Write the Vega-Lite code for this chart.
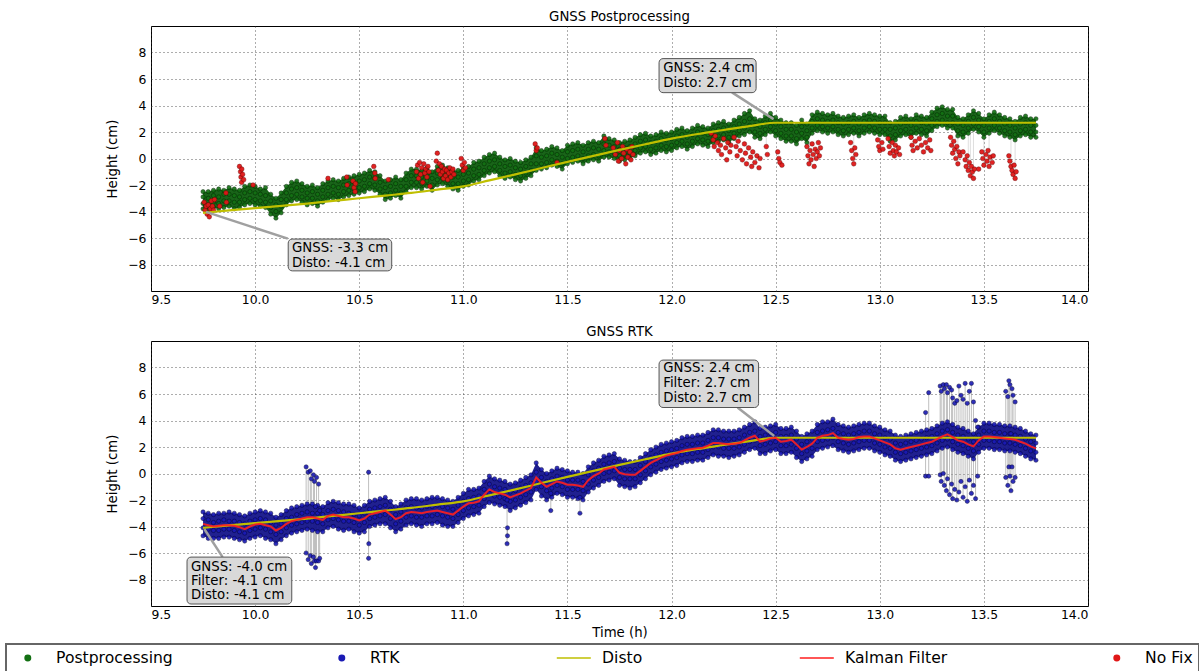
{
"$schema": "https://vega.github.io/schema/vega-lite/v6.json",
"padding": {"left": 5, "top": 9, "right": 0, "bottom": 0},
"spacing": 18,
"datasets": {
"pp": [
{"t":9.75,"h2":-2.5,"b":-2.9,"c":-3.4,"h":-3.8},{"t":9.775,"h2":-2.5,"b":-3.0,"c":-3.5,"h":-3.9},{"t":9.8,"h2":-2.4,"b":-2.8,"c":-3.3,"h":-3.7},{"t":9.825,"h2":-2.3,"b":-2.9,"c":-3.4,"h":-3.8},{"t":9.85,"h2":-2.4,"b":-2.7,"c":-3.2,"h":-3.7},{"t":9.875,"h2":-2.2,"b":-2.7,"c":-3.2,"h":-3.6},{"t":9.9,"h2":-2.3,"b":-2.8,"c":-3.3,"h":-3.8},{"t":9.925,"h2":-2.4,"b":-2.9,"c":-3.3,"h":-3.7},{"t":9.95,"h2":-2.1,"b":-2.6,"c":-3.1,"h":-3.5},{"t":9.975,"h2":-2.0,"b":-2.5,"c":-3.0,"h":-3.4},
{"t":10.0,"h2":-2.1,"b":-2.6,"c":-3.1,"h":-3.5},{"t":10.025,"h2":-2.3,"b":-2.7,"c":-3.2,"h":-3.6},{"t":10.05,"h2":-2.2,"b":-2.8,"c":-3.3,"h":-3.7},{"t":10.075,"h2":-2.7,"b":-3.2,"c":-3.7,"h":-4.2},{"t":10.1,"h2":-3.0,"b":-3.5,"c":-4.0,"h":-4.5},{"t":10.125,"h2":-2.6,"b":-3.1,"c":-3.6,"h":-4.1},{"t":10.15,"h2":-2.1,"b":-2.6,"c":-3.1,"h":-3.5},{"t":10.175,"h2":-1.8,"b":-2.3,"c":-2.8,"h":-3.2},{"t":10.2,"h2":-1.7,"b":-2.2,"c":-2.7,"h":-3.1},{"t":10.225,"h2":-1.9,"b":-2.4,"c":-2.9,"h":-3.3},
{"t":10.25,"h2":-2.1,"b":-2.6,"c":-3.0,"h":-3.5},{"t":10.275,"h2":-2.0,"b":-2.5,"c":-3.0,"h":-3.4},{"t":10.3,"h2":-2.2,"b":-2.7,"c":-3.2,"h":-3.6},{"t":10.325,"h2":-1.9,"b":-2.4,"c":-2.9,"h":-3.3},{"t":10.35,"h2":-1.7,"b":-2.2,"c":-2.7,"h":-3.1},{"t":10.375,"h2":-1.6,"b":-2.1,"c":-2.6,"h":-3.0},{"t":10.4,"h2":-1.7,"b":-2.2,"c":-2.7,"h":-3.1},{"t":10.425,"h2":-1.5,"b":-2.0,"c":-2.5,"h":-2.9},{"t":10.45,"h2":-1.4,"b":-1.9,"c":-2.4,"h":-2.8},{"t":10.475,"h2":-1.3,"b":-1.8,"c":-2.3,"h":-2.7},
{"t":10.5,"h2":-1.2,"b":-1.7,"c":-2.2,"h":-2.6},{"t":10.525,"h2":-1.1,"b":-1.6,"c":-2.1,"h":-2.5},{"t":10.55,"h2":-0.9,"b":-1.4,"c":-1.9,"h":-2.3},{"t":10.575,"h2":-1.0,"b":-1.5,"c":-2.0,"h":-2.4},{"t":10.6,"h2":-1.3,"b":-1.8,"c":-2.3,"h":-2.7},{"t":10.625,"h2":-1.7,"b":-2.2,"c":-2.7,"h":-3.1},{"t":10.65,"h2":-1.6,"b":-2.1,"c":-2.6,"h":-3.0},{"t":10.675,"h2":-1.4,"b":-1.9,"c":-2.4,"h":-2.8},{"t":10.7,"h2":-1.6,"b":-2.1,"c":-2.6,"h":-3.0},{"t":10.725,"h2":-1.1,"b":-1.6,"c":-2.1,"h":-2.5},
{"t":10.75,"h2":-0.8,"b":-1.3,"c":-1.8,"h":-2.2},{"t":10.775,"h2":-0.8,"b":-1.3,"c":-1.8,"h":-2.2},{"t":10.8,"h2":-0.9,"b":-1.4,"c":-1.9,"h":-2.3},{"t":10.825,"h2":-0.7,"b":-1.2,"c":-1.7,"h":-2.1},{"t":10.85,"h2":-1.0,"b":-1.5,"c":-2.0,"h":-2.4},{"t":10.875,"h2":-0.6,"b":-1.1,"c":-1.6,"h":-2.0},{"t":10.9,"h2":-0.5,"b":-1.0,"c":-1.5,"h":-1.9},{"t":10.925,"h2":-0.7,"b":-1.2,"c":-1.7,"h":-2.1},{"t":10.95,"h2":-0.9,"b":-1.4,"c":-1.9,"h":-2.3},{"t":10.975,"h2":-0.9,"b":-1.4,"c":-1.9,"h":-2.4},
{"t":11.0,"h2":-0.7,"b":-1.2,"c":-1.7,"h":-2.1},{"t":11.025,"h2":-0.6,"b":-1.1,"c":-1.6,"h":-2.0},{"t":11.05,"h2":-0.3,"b":-0.8,"c":-1.3,"h":-1.7},{"t":11.075,"h2":-0.2,"b":-0.7,"c":-1.2,"h":-1.6},{"t":11.1,"h2":0.1,"b":-0.4,"c":-0.9,"h":-1.3},{"t":11.125,"h2":0.3,"b":-0.2,"c":-0.7,"h":-1.1},{"t":11.15,"h2":0.4,"b":-0.1,"c":-0.6,"h":-1.0},{"t":11.175,"h2":0.1,"b":-0.4,"c":-0.9,"h":-1.3},{"t":11.2,"h2":-0.1,"b":-0.6,"c":-1.1,"h":-1.5},{"t":11.225,"h2":0.0,"b":-0.5,"c":-1.0,"h":-1.4},
{"t":11.25,"h2":-0.2,"b":-0.7,"c":-1.2,"h":-1.6},{"t":11.275,"h2":-0.3,"b":-0.8,"c":-1.3,"h":-1.7},{"t":11.3,"h2":-0.1,"b":-0.6,"c":-1.1,"h":-1.5},{"t":11.325,"h2":0.1,"b":-0.4,"c":-0.9,"h":-1.3},{"t":11.35,"h2":0.8,"b":0.2,"c":-0.4,"h":-0.9},{"t":11.375,"h2":0.6,"b":0.1,"c":-0.4,"h":-0.8},{"t":11.4,"h2":0.7,"b":0.2,"c":-0.3,"h":-0.7},{"t":11.425,"h2":0.9,"b":0.4,"c":-0.1,"h":-0.5},{"t":11.45,"h2":0.8,"b":0.3,"c":-0.2,"h":-0.6},{"t":11.475,"h2":0.6,"b":0.1,"c":-0.4,"h":-0.8},
{"t":11.5,"h2":1.0,"b":0.5,"c":0.0,"h":-0.4},{"t":11.525,"h2":1.1,"b":0.6,"c":0.1,"h":-0.3},{"t":11.55,"h2":1.2,"b":0.7,"c":0.2,"h":-0.2},{"t":11.575,"h2":1.0,"b":0.5,"c":0.0,"h":-0.4},{"t":11.6,"h2":1.2,"b":0.7,"c":0.2,"h":-0.2},{"t":11.625,"h2":1.3,"b":0.8,"c":0.3,"h":-0.1},{"t":11.65,"h2":1.2,"b":0.7,"c":0.2,"h":-0.2},{"t":11.675,"h2":1.7,"b":1.1,"c":0.6,"h":0.1},{"t":11.7,"h2":1.5,"b":1.0,"c":0.5,"h":0.1},{"t":11.725,"h2":1.4,"b":0.9,"c":0.4,"h":0.0},
{"t":11.75,"h2":1.2,"b":0.7,"c":0.2,"h":-0.2},{"t":11.775,"h2":1.3,"b":0.8,"c":0.3,"h":-0.1},{"t":11.8,"h2":1.4,"b":0.9,"c":0.4,"h":0.0},{"t":11.825,"h2":1.6,"b":1.1,"c":0.6,"h":0.2},{"t":11.85,"h2":1.8,"b":1.3,"c":0.8,"h":0.4},{"t":11.875,"h2":1.9,"b":1.4,"c":0.9,"h":0.5},{"t":11.9,"h2":1.7,"b":1.2,"c":0.7,"h":0.3},{"t":11.925,"h2":1.8,"b":1.3,"c":0.8,"h":0.4},{"t":11.95,"h2":2.0,"b":1.5,"c":1.0,"h":0.6},{"t":11.975,"h2":1.9,"b":1.4,"c":0.9,"h":0.5},
{"t":12.0,"h2":2.0,"b":1.5,"c":1.0,"h":0.6},{"t":12.025,"h2":2.2,"b":1.7,"c":1.2,"h":0.8},{"t":12.05,"h2":2.3,"b":1.8,"c":1.3,"h":0.9},{"t":12.075,"h2":2.1,"b":1.6,"c":1.1,"h":0.7},{"t":12.1,"h2":2.3,"b":1.8,"c":1.3,"h":0.9},{"t":12.125,"h2":2.5,"b":2.0,"c":1.5,"h":1.1},{"t":12.15,"h2":2.4,"b":1.9,"c":1.4,"h":1.0},{"t":12.175,"h2":2.3,"b":1.8,"c":1.3,"h":0.9},{"t":12.2,"h2":2.6,"b":2.1,"c":1.6,"h":1.2},{"t":12.225,"h2":2.7,"b":2.2,"c":1.7,"h":1.3},
{"t":12.25,"h2":2.8,"b":2.3,"c":1.8,"h":1.4},{"t":12.275,"h2":2.6,"b":2.1,"c":1.6,"h":1.2},{"t":12.3,"h2":2.9,"b":2.4,"c":1.9,"h":1.5},{"t":12.325,"h2":3.1,"b":2.6,"c":2.1,"h":1.7},{"t":12.35,"h2":3.4,"b":2.8,"c":2.3,"h":1.8},{"t":12.375,"h2":3.6,"b":3.0,"c":2.5,"h":2.0},{"t":12.4,"h2":3.0,"b":2.5,"c":2.0,"h":1.6},{"t":12.425,"h2":2.9,"b":2.4,"c":1.9,"h":1.5},{"t":12.45,"h2":3.2,"b":2.7,"c":2.2,"h":1.8},{"t":12.475,"h2":3.4,"b":2.9,"c":2.4,"h":2.0},
{"t":12.5,"h2":3.1,"b":2.6,"c":2.1,"h":1.7},{"t":12.525,"h2":2.9,"b":2.4,"c":1.9,"h":1.5},{"t":12.55,"h2":2.7,"b":2.2,"c":1.7,"h":1.3},{"t":12.575,"h2":2.7,"b":2.2,"c":1.7,"h":1.3},{"t":12.6,"h2":2.5,"b":2.0,"c":1.5,"h":1.1},{"t":12.625,"h2":2.9,"b":2.4,"c":1.9,"h":1.5},{"t":12.65,"h2":2.6,"b":2.1,"c":1.6,"h":1.2},{"t":12.675,"h2":3.3,"b":2.8,"c":2.3,"h":1.9},{"t":12.7,"h2":3.5,"b":3.0,"c":2.5,"h":2.1},{"t":12.725,"h2":3.4,"b":2.9,"c":2.4,"h":2.0},
{"t":12.75,"h2":3.3,"b":2.8,"c":2.3,"h":1.9},{"t":12.775,"h2":3.4,"b":2.9,"c":2.4,"h":2.0},{"t":12.8,"h2":3.2,"b":2.7,"c":2.2,"h":1.8},{"t":12.825,"h2":3.1,"b":2.6,"c":2.1,"h":1.7},{"t":12.85,"h2":3.2,"b":2.7,"c":2.2,"h":1.8},{"t":12.875,"h2":3.3,"b":2.8,"c":2.3,"h":1.9},{"t":12.9,"h2":3.1,"b":2.6,"c":2.1,"h":1.7},{"t":12.925,"h2":3.3,"b":2.8,"c":2.3,"h":1.9},{"t":12.95,"h2":3.4,"b":2.9,"c":2.4,"h":2.0},{"t":12.975,"h2":3.3,"b":2.8,"c":2.3,"h":1.9},
{"t":13.0,"h2":3.2,"b":2.7,"c":2.2,"h":1.8},{"t":13.025,"h2":3.2,"b":2.7,"c":2.2,"h":1.8},{"t":13.05,"h2":2.7,"b":2.2,"c":1.7,"h":1.3},{"t":13.075,"h2":2.8,"b":2.3,"c":1.8,"h":1.4},{"t":13.1,"h2":3.1,"b":2.6,"c":2.1,"h":1.7},{"t":13.125,"h2":3.2,"b":2.7,"c":2.2,"h":1.8},{"t":13.15,"h2":3.0,"b":2.5,"c":2.0,"h":1.6},{"t":13.175,"h2":3.3,"b":2.8,"c":2.3,"h":1.9},{"t":13.2,"h2":3.2,"b":2.7,"c":2.2,"h":1.8},{"t":13.225,"h2":3.1,"b":2.6,"c":2.1,"h":1.7},
{"t":13.25,"h2":3.5,"b":3.0,"c":2.5,"h":2.1},{"t":13.275,"h2":3.8,"b":3.3,"c":2.8,"h":2.4},{"t":13.3,"h2":3.9,"b":3.4,"c":2.9,"h":2.5},{"t":13.325,"h2":3.7,"b":3.2,"c":2.7,"h":2.3},{"t":13.35,"h2":3.7,"b":3.2,"c":2.7,"h":2.3},{"t":13.375,"h2":3.1,"b":2.6,"c":2.1,"h":1.7},{"t":13.4,"h2":3.0,"b":2.5,"c":2.0,"h":1.6},{"t":13.425,"h2":3.3,"b":2.8,"c":2.3,"h":1.9},{"t":13.45,"h2":3.6,"b":3.1,"c":2.6,"h":2.2},{"t":13.475,"h2":3.4,"b":2.9,"c":2.4,"h":2.0},
{"t":13.5,"h2":3.0,"b":2.5,"c":2.0,"h":1.6},{"t":13.525,"h2":3.3,"b":2.8,"c":2.3,"h":1.9},{"t":13.55,"h2":3.5,"b":3.0,"c":2.5,"h":2.1},{"t":13.575,"h2":3.3,"b":2.8,"c":2.3,"h":1.9},{"t":13.6,"h2":3.1,"b":2.6,"c":2.1,"h":1.7},{"t":13.625,"h2":3.0,"b":2.5,"c":2.0,"h":1.6},{"t":13.65,"h2":2.8,"b":2.3,"c":1.8,"h":1.4},{"t":13.675,"h2":3.1,"b":2.6,"c":2.1,"h":1.7},{"t":13.7,"h2":3.2,"b":2.7,"c":2.2,"h":1.8},{"t":13.725,"h2":3.0,"b":2.5,"c":2.0,"h":1.6},{"t":13.75,"h2":3.0,"b":2.5,"c":2.0,"h":1.6}
],
"nf": [
{"t":9.755,"h":-3.3},{"t":9.76,"h":-3.9},{"t":9.765,"h":-3.6},{"t":9.77,"h":-4.2},{"t":9.775,"h":-3.5},{"t":9.78,"h":-4.4},{"t":9.785,"h":-3.8},{"t":9.79,"h":-3.2},{"t":9.795,"h":-3.6},{"t":9.8,"h":-3.9},{"t":9.805,"h":-3.1},{"t":9.83,"h":-3.6},{"t":9.86,"h":-2.6},{"t":9.862,"h":-3.3},
{"t":9.925,"h":-0.6},{"t":9.93,"h":-1.0},{"t":9.932,"h":-1.4},{"t":9.935,"h":-1.8},{"t":9.94,"h":-1.2},{"t":9.936,"h":-0.8},{"t":9.945,"h":-1.6},{"t":9.99,"h":-2.0},
{"t":10.35,"h":-1.5},{"t":10.44,"h":-1.4},{"t":10.442,"h":-2.0},{"t":10.47,"h":-1.7},{"t":10.475,"h":-2.2},{"t":10.48,"h":-2.5},{"t":10.482,"h":-1.9},{"t":10.57,"h":-0.6},{"t":10.575,"h":-1.1},{"t":10.577,"h":-1.5},{"t":10.64,"h":-1.6},
{"t":10.775,"h":-1.0},{"t":10.78,"h":-0.5},{"t":10.785,"h":-1.5},{"t":10.79,"h":-0.3},{"t":10.795,"h":-1.2},{"t":10.8,"h":-0.7},{"t":10.805,"h":-1.8},{"t":10.81,"h":-0.4},{"t":10.815,"h":-1.1},{"t":10.82,"h":-0.8},{"t":10.825,"h":-1.4},{"t":10.83,"h":-0.6},{"t":10.835,"h":-1.0},{"t":10.84,"h":-2.1},
{"t":10.87,"h":-0.2},{"t":10.875,"h":0.4},{"t":10.88,"h":-0.9},{"t":10.885,"h":-0.4},{"t":10.89,"h":-1.2},{"t":10.895,"h":-0.6},{"t":10.9,"h":-1.0},{"t":10.905,"h":-1.5},{"t":10.91,"h":-0.8},{"t":10.915,"h":-1.3},{"t":10.92,"h":-0.9},{"t":10.925,"h":-1.6},{"t":10.93,"h":-1.1},{"t":10.935,"h":-0.7},{"t":10.94,"h":-1.4},{"t":10.945,"h":-1.0},{"t":10.95,"h":-0.8},{"t":10.955,"h":-1.2},
{"t":10.99,"h":0.0},{"t":10.995,"h":-0.5},{"t":11.0,"h":-0.9},{"t":11.005,"h":-0.3},{"t":11.01,"h":-0.7},
{"t":11.345,"h":1.1},{"t":11.35,"h":0.6},{"t":11.355,"h":0.8},{"t":11.45,"h":-0.3},{"t":11.68,"h":1.5},{"t":11.685,"h":1.0},
{"t":11.72,"h":0.8},{"t":11.73,"h":0.3},{"t":11.74,"h":1.2},{"t":11.745,"h":-0.2},{"t":11.75,"h":0.6},{"t":11.76,"h":0.0},{"t":11.765,"h":0.9},{"t":11.77,"h":0.4},{"t":11.78,"h":-0.4},{"t":11.785,"h":0.7},{"t":11.79,"h":0.1},{"t":11.8,"h":0.5},{"t":11.805,"h":-0.1},{"t":11.81,"h":0.9},{"t":11.815,"h":0.3},
{"t":12.19,"h":1.9},{"t":12.2,"h":1.4},{"t":12.205,"h":0.9},{"t":12.21,"h":1.7},{"t":12.22,"h":1.2},{"t":12.225,"h":0.6},{"t":12.235,"h":1.0},{"t":12.24,"h":0.3},{"t":12.25,"h":1.5},{"t":12.26,"h":0.8},{"t":12.265,"h":-0.1},{"t":12.27,"h":1.2},{"t":12.28,"h":0.5},{"t":12.285,"h":1.0},
{"t":12.3,"h":1.6},{"t":12.31,"h":0.9},{"t":12.315,"h":0.2},{"t":12.32,"h":1.3},{"t":12.33,"h":0.6},{"t":12.34,"h":-0.1},{"t":12.35,"h":1.1},{"t":12.355,"h":0.4},{"t":12.36,"h":-0.4},{"t":12.37,"h":0.8},{"t":12.38,"h":0.1},{"t":12.385,"h":-0.6},{"t":12.39,"h":0.5},{"t":12.4,"h":-0.3},{"t":12.41,"h":0.2},{"t":12.42,"h":-0.7},{"t":12.425,"h":0.0},
{"t":12.455,"h":0.9},{"t":12.46,"h":0.3},{"t":12.51,"h":0.5},{"t":12.515,"h":0.0},{"t":12.52,"h":-0.3},{"t":12.53,"h":-0.5},
{"t":12.65,"h":0.9},{"t":12.655,"h":0.2},{"t":12.66,"h":-0.4},{"t":12.665,"h":0.6},{"t":12.67,"h":-0.1},{"t":12.675,"h":1.1},{"t":12.68,"h":0.3},{"t":12.685,"h":-0.6},{"t":12.69,"h":0.7},{"t":12.695,"h":0.0},{"t":12.7,"h":0.5},{"t":12.705,"h":1.2},{"t":12.71,"h":0.2},{"t":12.715,"h":0.8},
{"t":12.86,"h":1.2},{"t":12.865,"h":0.6},{"t":12.87,"h":0.0},{"t":12.875,"h":-0.4},{"t":12.88,"h":0.8},{"t":12.885,"h":0.3},
{"t":12.99,"h":1.4},{"t":12.995,"h":0.9},{"t":13.0,"h":0.6},{"t":13.01,"h":1.2},{"t":13.015,"h":0.7},
{"t":13.04,"h":1.5},{"t":13.045,"h":0.9},{"t":13.05,"h":0.4},{"t":13.06,"h":1.2},{"t":13.065,"h":0.6},{"t":13.07,"h":0.2},{"t":13.075,"h":1.0},{"t":13.08,"h":0.5},{"t":13.09,"h":0.8},{"t":13.095,"h":0.3},
{"t":13.15,"h":1.6},{"t":13.155,"h":1.0},{"t":13.16,"h":0.6},{"t":13.17,"h":1.3},{"t":13.18,"h":0.8},{"t":13.19,"h":1.5},{"t":13.2,"h":1.0},{"t":13.21,"h":0.5},{"t":13.22,"h":1.2},{"t":13.23,"h":0.8},{"t":13.24,"h":1.4},{"t":13.245,"h":0.6},
{"t":13.34,"h":1.6},{"t":13.345,"h":1.0},{"t":13.35,"h":0.4},{"t":13.355,"h":1.3},{"t":13.36,"h":0.7},{"t":13.365,"h":0.0},{"t":13.37,"h":0.9},{"t":13.375,"h":-0.4},{"t":13.38,"h":0.5},{"t":13.385,"h":0.2},
{"t":13.4,"h":0.5},{"t":13.41,"h":-0.1},{"t":13.415,"h":-0.6},{"t":13.42,"h":0.2},{"t":13.425,"h":-0.9},{"t":13.43,"h":-0.3},{"t":13.435,"h":-1.3},{"t":13.44,"h":-0.6},{"t":13.445,"h":-1.0},{"t":13.45,"h":-1.5},{"t":13.455,"h":-0.8},{"t":13.475,"h":-0.8},
{"t":13.49,"h":0.5},{"t":13.495,"h":0.0},{"t":13.5,"h":-0.5},{"t":13.51,"h":0.3},{"t":13.515,"h":-0.2},{"t":13.52,"h":0.6},{"t":13.525,"h":-0.6},{"t":13.53,"h":0.1},{"t":13.54,"h":-0.3},{"t":13.545,"h":0.2},
{"t":13.62,"h":0.2},{"t":13.625,"h":-0.2},{"t":13.63,"h":-0.6},{"t":13.635,"h":-0.9},{"t":13.64,"h":-1.2},{"t":13.645,"h":-0.5},{"t":13.65,"h":-1.5},{"t":13.655,"h":-1.0}
],
"nfl": [
{"t":9.932,"h":-2.9,"h2":-0.6},{"t":9.938,"h":-2.8,"h2":-1.0},{"t":12.455,"h":0.9,"h2":2.4},{"t":12.66,"h":-0.4,"h2":1.9},{"t":12.875,"h":-0.4,"h2":2.5},{"t":13.365,"h":0.0,"h2":2.6},{"t":13.375,"h":-0.4,"h2":2.5},{"t":13.425,"h":-0.9,"h2":2.6},{"t":13.435,"h":-1.3,"h2":2.8},{"t":13.45,"h":-1.5,"h2":2.9},{"t":13.5,"h":-0.5,"h2":2.3},{"t":13.525,"h":-0.6,"h2":2.5},{"t":13.63,"h":-0.6,"h2":2.2},{"t":13.65,"h":-1.5,"h2":2.1}
],
"rtk": [
{"t":9.75,"h2":-2.9,"b":-3.4,"c":-4.1,"h":-4.7,"k":-3.8},{"t":9.775,"h2":-3.0,"b":-3.5,"c":-4.2,"h":-4.9,"k":-3.9},{"t":9.8,"h2":-3.1,"b":-3.7,"c":-4.3,"h":-4.9,"k":-4.0},{"t":9.825,"h2":-3.0,"b":-3.6,"c":-4.3,"h":-4.9,"k":-3.95},{"t":9.85,"h2":-3.0,"b":-3.5,"c":-4.2,"h":-4.8,"k":-3.9},{"t":9.875,"h2":-2.9,"b":-3.6,"c":-4.2,"h":-4.8,"k":-3.9},{"t":9.9,"h2":-3.0,"b":-3.6,"c":-4.3,"h":-4.9,"k":-3.95},{"t":9.925,"h2":-3.1,"b":-3.7,"c":-4.4,"h":-5.0,"k":-4.05},{"t":9.95,"h2":-3.2,"b":-3.8,"c":-4.5,"h":-5.1,"k":-4.2},{"t":9.975,"h2":-3.0,"b":-3.6,"c":-4.3,"h":-4.9,"k":-4.0},
{"t":10.0,"h2":-2.9,"b":-3.5,"c":-4.2,"h":-4.8,"k":-3.85},{"t":10.025,"h2":-2.8,"b":-3.4,"c":-4.1,"h":-4.7,"k":-3.8},{"t":10.05,"h2":-2.9,"b":-3.5,"c":-4.2,"h":-4.9,"k":-3.9},{"t":10.075,"h2":-3.0,"b":-3.7,"c":-4.4,"h":-5.0,"k":-4.0},{"t":10.1,"h2":-3.3,"b":-3.9,"c":-4.6,"h":-5.3,"k":-4.3},{"t":10.125,"h2":-3.1,"b":-3.8,"c":-4.4,"h":-5.0,"k":-4.1},{"t":10.15,"h2":-2.8,"b":-3.4,"c":-4.1,"h":-4.7,"k":-3.8},{"t":10.175,"h2":-2.6,"b":-3.3,"c":-3.9,"h":-4.5,"k":-3.6},{"t":10.2,"h2":-2.5,"b":-3.1,"c":-3.8,"h":-4.4,"k":-3.5},{"t":10.225,"h2":-2.4,"b":-3.0,"c":-3.7,"h":-4.3,"k":-3.4},
{"t":10.25,"h2":-2.3,"b":-2.9,"c":-3.6,"h":-4.2,"k":-3.3},{"t":10.275,"h2":-2.3,"b":-3.0,"c":-3.6,"h":-4.3,"k":-3.3},{"t":10.3,"h2":-2.4,"b":-3.0,"c":-3.7,"h":-4.4,"k":-3.4},{"t":10.325,"h2":-2.5,"b":-3.1,"c":-3.8,"h":-4.4,"k":-3.5},{"t":10.35,"h2":-2.2,"b":-2.8,"c":-3.5,"h":-4.1,"k":-3.2},{"t":10.375,"h2":-2.1,"b":-2.7,"c":-3.4,"h":-4.0,"k":-3.1},{"t":10.4,"h2":-2.2,"b":-2.8,"c":-3.5,"h":-4.2,"k":-3.2},{"t":10.425,"h2":-2.3,"b":-2.9,"c":-3.6,"h":-4.3,"k":-3.3},{"t":10.45,"h2":-2.3,"b":-3.0,"c":-3.6,"h":-4.2,"k":-3.3},{"t":10.475,"h2":-2.4,"b":-3.1,"c":-3.7,"h":-4.4,"k":-3.4},
{"t":10.5,"h2":-2.6,"b":-3.2,"c":-3.9,"h":-4.5,"k":-3.55},{"t":10.525,"h2":-2.4,"b":-3.0,"c":-3.7,"h":-4.4,"k":-3.4},{"t":10.55,"h2":-2.1,"b":-2.7,"c":-3.4,"h":-4.0,"k":-3.1},{"t":10.575,"h2":-2.0,"b":-2.6,"c":-3.3,"h":-3.9,"k":-3.0},{"t":10.6,"h2":-1.9,"b":-2.5,"c":-3.2,"h":-3.8,"k":-2.9},{"t":10.625,"h2":-1.8,"b":-2.4,"c":-3.1,"h":-3.8,"k":-2.8},{"t":10.65,"h2":-2.1,"b":-2.7,"c":-3.4,"h":-4.1,"k":-3.1},{"t":10.675,"h2":-2.5,"b":-3.1,"c":-3.8,"h":-4.4,"k":-3.45},{"t":10.7,"h2":-2.3,"b":-2.9,"c":-3.6,"h":-4.2,"k":-3.3},{"t":10.725,"h2":-2.0,"b":-2.6,"c":-3.3,"h":-3.9,"k":-3.0},
{"t":10.75,"h2":-1.9,"b":-2.5,"c":-3.2,"h":-3.8,"k":-2.9},{"t":10.775,"h2":-1.9,"b":-2.6,"c":-3.3,"h":-3.9,"k":-2.95},{"t":10.8,"h2":-2.0,"b":-2.6,"c":-3.3,"h":-4.0,"k":-3.0},{"t":10.825,"h2":-1.9,"b":-2.5,"c":-3.2,"h":-3.8,"k":-2.9},{"t":10.85,"h2":-1.8,"b":-2.5,"c":-3.2,"h":-3.8,"k":-2.85},{"t":10.875,"h2":-1.8,"b":-2.4,"c":-3.1,"h":-3.7,"k":-2.8},{"t":10.9,"h2":-1.9,"b":-2.5,"c":-3.2,"h":-3.9,"k":-2.9},{"t":10.925,"h2":-2.0,"b":-2.6,"c":-3.3,"h":-4.0,"k":-3.0},{"t":10.95,"h2":-2.1,"b":-2.7,"c":-3.4,"h":-4.0,"k":-3.1},{"t":10.975,"h2":-1.8,"b":-2.4,"c":-3.1,"h":-3.7,"k":-2.8},
{"t":11.0,"h2":-1.5,"b":-2.1,"c":-2.8,"h":-3.4,"k":-2.5},{"t":11.025,"h2":-1.2,"b":-1.9,"c":-2.6,"h":-3.2,"k":-2.25},{"t":11.05,"h2":-1.2,"b":-1.8,"c":-2.5,"h":-3.1,"k":-2.2},{"t":11.075,"h2":-1.1,"b":-1.7,"c":-2.4,"h":-3.0,"k":-2.1},{"t":11.1,"h2":-0.6,"b":-1.2,"c":-1.9,"h":-2.5,"k":-1.6},{"t":11.125,"h2":-0.2,"b":-0.8,"c":-1.5,"h":-2.2,"k":-1.2},{"t":11.15,"h2":-0.4,"b":-1.0,"c":-1.7,"h":-2.3,"k":-1.4},{"t":11.175,"h2":-0.5,"b":-1.1,"c":-1.8,"h":-2.4,"k":-1.5},{"t":11.2,"h2":-0.6,"b":-1.2,"c":-1.9,"h":-2.5,"k":-1.6},{"t":11.225,"h2":-0.8,"b":-1.4,"c":-2.1,"h":-2.8,"k":-1.8},
{"t":11.25,"h2":-0.7,"b":-1.3,"c":-2.0,"h":-2.6,"k":-1.65},{"t":11.275,"h2":-0.5,"b":-1.1,"c":-1.8,"h":-2.4,"k":-1.5},{"t":11.3,"h2":-0.3,"b":-0.9,"c":-1.6,"h":-2.2,"k":-1.3},{"t":11.325,"h2":-0.1,"b":-0.7,"c":-1.4,"h":-2.0,"k":-1.1},{"t":11.35,"h2":0.8,"b":0.1,"c":-0.6,"h":-1.2,"k":-0.3},{"t":11.375,"h2":0.3,"b":-0.3,"c":-1.0,"h":-1.7,"k":-0.7},{"t":11.4,"h2":0.0,"b":-0.6,"c":-1.3,"h":-2.0,"k":-1.0},{"t":11.425,"h2":0.2,"b":-0.4,"c":-1.1,"h":-1.8,"k":-0.8},{"t":11.45,"h2":0.4,"b":-0.2,"c":-0.9,"h":-1.5,"k":-0.6},{"t":11.475,"h2":0.3,"b":-0.3,"c":-1.0,"h":-1.6,"k":-0.7},
{"t":11.5,"h2":0.2,"b":-0.5,"c":-1.2,"h":-1.8,"k":-0.85},{"t":11.525,"h2":0.1,"b":-0.5,"c":-1.2,"h":-1.8,"k":-0.85},{"t":11.55,"h2":0.1,"b":-0.5,"c":-1.2,"h":-1.9,"k":-0.9},{"t":11.575,"h2":0.0,"b":-0.6,"c":-1.3,"h":-2.0,"k":-1.0},{"t":11.6,"h2":0.5,"b":-0.1,"c":-0.8,"h":-1.4,"k":-0.5},{"t":11.625,"h2":0.8,"b":0.2,"c":-0.5,"h":-1.1,"k":-0.2},{"t":11.65,"h2":1.0,"b":0.4,"c":-0.3,"h":-0.9,"k":0.0},{"t":11.675,"h2":1.3,"b":0.7,"c":0.0,"h":-0.6,"k":0.3},{"t":11.7,"h2":1.4,"b":0.8,"c":0.1,"h":-0.5,"k":0.4},{"t":11.725,"h2":1.5,"b":0.9,"c":0.2,"h":-0.4,"k":0.5},
{"t":11.75,"h2":1.1,"b":0.4,"c":-0.3,"h":-0.9,"k":0.05},{"t":11.775,"h2":1.0,"b":0.3,"c":-0.4,"h":-1.0,"k":-0.05},{"t":11.8,"h2":0.9,"b":0.3,"c":-0.4,"h":-1.1,"k":-0.1},{"t":11.825,"h2":0.9,"b":0.3,"c":-0.4,"h":-1.0,"k":-0.1},{"t":11.85,"h2":1.2,"b":0.6,"c":-0.1,"h":-0.7,"k":0.2},{"t":11.875,"h2":1.5,"b":0.9,"c":0.2,"h":-0.4,"k":0.5},{"t":11.9,"h2":1.8,"b":1.2,"c":0.5,"h":-0.1,"k":0.8},{"t":11.925,"h2":2.0,"b":1.4,"c":0.7,"h":0.1,"k":1.0},{"t":11.95,"h2":2.2,"b":1.6,"c":0.9,"h":0.3,"k":1.2},{"t":11.975,"h2":2.3,"b":1.7,"c":1.0,"h":0.4,"k":1.35},
{"t":12.0,"h2":2.4,"b":1.8,"c":1.1,"h":0.5,"k":1.45},{"t":12.025,"h2":2.5,"b":1.9,"c":1.2,"h":0.6,"k":1.55},{"t":12.05,"h2":2.7,"b":2.1,"c":1.4,"h":0.8,"k":1.7},{"t":12.075,"h2":2.8,"b":2.2,"c":1.5,"h":0.9,"k":1.8},{"t":12.1,"h2":2.8,"b":2.2,"c":1.5,"h":0.9,"k":1.85},{"t":12.125,"h2":2.9,"b":2.3,"c":1.6,"h":1.0,"k":1.9},{"t":12.15,"h2":2.9,"b":2.3,"c":1.6,"h":1.0,"k":1.95},{"t":12.175,"h2":3.1,"b":2.5,"c":1.8,"h":1.2,"k":2.1},{"t":12.2,"h2":3.3,"b":2.7,"c":2.0,"h":1.4,"k":2.3},{"t":12.225,"h2":3.3,"b":2.7,"c":2.0,"h":1.3,"k":2.3},
{"t":12.25,"h2":3.2,"b":2.6,"c":1.9,"h":1.3,"k":2.25},{"t":12.275,"h2":3.2,"b":2.6,"c":1.9,"h":1.2,"k":2.2},{"t":12.3,"h2":3.2,"b":2.6,"c":1.9,"h":1.3,"k":2.25},{"t":12.325,"h2":3.3,"b":2.7,"c":2.0,"h":1.4,"k":2.3},{"t":12.35,"h2":3.5,"b":2.9,"c":2.2,"h":1.6,"k":2.5},{"t":12.375,"h2":3.7,"b":3.1,"c":2.4,"h":1.8,"k":2.7},{"t":12.4,"h2":3.9,"b":3.2,"c":2.5,"h":1.9,"k":2.85},{"t":12.425,"h2":3.4,"b":2.8,"c":2.1,"h":1.5,"k":2.4},{"t":12.45,"h2":3.5,"b":2.9,"c":2.2,"h":1.5,"k":2.5},{"t":12.475,"h2":3.6,"b":3.0,"c":2.3,"h":1.7,"k":2.65},
{"t":12.5,"h2":3.7,"b":3.1,"c":2.4,"h":1.8,"k":2.7},{"t":12.525,"h2":3.4,"b":2.8,"c":2.1,"h":1.5,"k":2.4},{"t":12.55,"h2":3.4,"b":2.8,"c":2.1,"h":1.5,"k":2.45},{"t":12.575,"h2":3.5,"b":2.9,"c":2.2,"h":1.6,"k":2.55},{"t":12.6,"h2":3.2,"b":2.6,"c":1.9,"h":1.2,"k":2.2},{"t":12.625,"h2":2.8,"b":2.2,"c":1.5,"h":0.9,"k":1.8},{"t":12.65,"h2":3.0,"b":2.4,"c":1.7,"h":1.1,"k":2.0},{"t":12.675,"h2":3.2,"b":2.6,"c":1.9,"h":1.3,"k":2.25},{"t":12.7,"h2":3.7,"b":3.1,"c":2.4,"h":1.8,"k":2.7},{"t":12.725,"h2":3.9,"b":3.2,"c":2.5,"h":1.9,"k":2.85},
{"t":12.75,"h2":3.9,"b":3.3,"c":2.6,"h":2.0,"k":2.9},{"t":12.775,"h2":4.1,"b":3.4,"c":2.7,"h":2.1,"k":3.05},{"t":12.8,"h2":3.7,"b":3.1,"c":2.4,"h":1.8,"k":2.7},{"t":12.825,"h2":3.6,"b":3.0,"c":2.3,"h":1.7,"k":2.6},{"t":12.85,"h2":3.5,"b":2.9,"c":2.2,"h":1.6,"k":2.55},{"t":12.875,"h2":3.6,"b":3.0,"c":2.3,"h":1.7,"k":2.6},{"t":12.9,"h2":3.7,"b":3.1,"c":2.4,"h":1.8,"k":2.75},{"t":12.925,"h2":3.8,"b":3.2,"c":2.5,"h":1.9,"k":2.8},{"t":12.95,"h2":3.8,"b":3.2,"c":2.5,"h":1.9,"k":2.8},{"t":12.975,"h2":3.6,"b":3.0,"c":2.3,"h":1.7,"k":2.65},
{"t":13.0,"h2":3.5,"b":2.9,"c":2.2,"h":1.6,"k":2.5},{"t":13.025,"h2":3.3,"b":2.7,"c":2.0,"h":1.4,"k":2.35},{"t":13.05,"h2":3.2,"b":2.6,"c":1.9,"h":1.3,"k":2.2},{"t":13.075,"h2":2.9,"b":2.3,"c":1.6,"h":1.0,"k":1.9},{"t":13.1,"h2":2.8,"b":2.2,"c":1.5,"h":0.9,"k":1.8},{"t":13.125,"h2":2.9,"b":2.3,"c":1.6,"h":1.0,"k":1.9},{"t":13.15,"h2":3.0,"b":2.4,"c":1.7,"h":1.1,"k":2.0},{"t":13.175,"h2":3.1,"b":2.5,"c":1.8,"h":1.2,"k":2.1},{"t":13.2,"h2":3.2,"b":2.6,"c":1.9,"h":1.3,"k":2.2},{"t":13.225,"h2":3.3,"b":2.7,"c":2.0,"h":1.4,"k":2.3},
{"t":13.25,"h2":3.4,"b":2.8,"c":2.1,"h":1.5,"k":2.4},{"t":13.275,"h2":3.6,"b":3.0,"c":2.3,"h":1.7,"k":2.6},{"t":13.3,"h2":3.8,"b":3.2,"c":2.5,"h":1.9,"k":2.8},{"t":13.325,"h2":3.9,"b":3.3,"c":2.6,"h":2.0,"k":2.95},{"t":13.35,"h2":3.7,"b":3.1,"c":2.4,"h":1.8,"k":2.75},{"t":13.375,"h2":3.5,"b":2.9,"c":2.2,"h":1.6,"k":2.5},{"t":13.4,"h2":3.4,"b":2.8,"c":2.1,"h":1.5,"k":2.4},{"t":13.425,"h2":3.2,"b":2.6,"c":1.9,"h":1.3,"k":2.2},{"t":13.45,"h2":3.0,"b":2.4,"c":1.7,"h":1.1,"k":2.05},{"t":13.475,"h2":3.5,"b":2.9,"c":2.2,"h":1.6,"k":2.5},
{"t":13.5,"h2":3.8,"b":3.2,"c":2.5,"h":1.9,"k":2.8},{"t":13.525,"h2":3.8,"b":3.2,"c":2.5,"h":1.9,"k":2.8},{"t":13.55,"h2":3.7,"b":3.1,"c":2.4,"h":1.8,"k":2.75},{"t":13.575,"h2":3.7,"b":3.1,"c":2.4,"h":1.8,"k":2.7},{"t":13.6,"h2":3.6,"b":3.0,"c":2.3,"h":1.7,"k":2.65},{"t":13.625,"h2":3.6,"b":3.0,"c":2.3,"h":1.7,"k":2.6},{"t":13.65,"h2":3.5,"b":2.9,"c":2.2,"h":1.6,"k":2.55},{"t":13.675,"h2":3.4,"b":2.8,"c":2.1,"h":1.5,"k":2.4},{"t":13.7,"h2":3.2,"b":2.6,"c":1.9,"h":1.3,"k":2.25},{"t":13.725,"h2":3.0,"b":2.4,"c":1.7,"h":1.1,"k":2.05},{"t":13.75,"h2":2.9,"b":2.3,"c":1.6,"h":1.0,"k":1.9}
],
"spk": [
{"t":10.245,"h":-6.0,"h2":0.5},{"t":10.255,"h":-6.5,"h2":0.1},{"t":10.265,"h":-6.2,"h2":0.2},{"t":10.27,"h":-6.8,"h2":-0.4},{"t":10.28,"h":-6.3,"h2":-0.1},{"t":10.285,"h":-6.6,"h2":-0.6},{"t":10.29,"h":-7.1,"h2":-2.5},{"t":10.295,"h":-6.6,"h2":-0.3},{"t":10.305,"h":-6.6,"h2":-0.8},{"t":10.31,"h":-6.4,"h2":-2.8},
{"t":10.545,"h":-6.4,"h2":0.1},{"t":10.546,"h":-5.3,"h2":-3.0},{"t":11.21,"h":-5.3,"h2":-2.0},{"t":11.212,"h":-4.1,"h2":-4.7},{"t":11.42,"h":-2.8,"h2":-1.5},{"t":11.56,"h":-3.0,"h2":-1.8},
{"t":13.22,"h":-0.2,"h2":4.6},{"t":13.235,"h":-0.2,"h2":6.1},
{"t":13.29,"h":-0.1,"h2":6.6},{"t":13.295,"h":-0.6,"h2":6.2},{"t":13.305,"h":0.0,"h2":6.7},{"t":13.31,"h":-0.9,"h2":6.4},{"t":13.32,"h":-1.3,"h2":6.7},{"t":13.325,"h":-0.4,"h2":6.1},{"t":13.335,"h":-1.6,"h2":6.5},{"t":13.345,"h":-0.8,"h2":6.3},{"t":13.35,"h":-1.9,"h2":5.7},{"t":13.36,"h":-1.2,"h2":5.3},{"t":13.37,"h":-2.0,"h2":5.5},{"t":13.38,"h":-1.4,"h2":6.6},{"t":13.39,"h":-0.6,"h2":5.9},{"t":13.4,"h":-1.8,"h2":5.6},{"t":13.41,"h":-1.0,"h2":6.8},{"t":13.42,"h":-2.1,"h2":5.3},{"t":13.43,"h":-0.5,"h2":6.2},{"t":13.44,"h":-1.5,"h2":6.8},{"t":13.45,"h":-0.9,"h2":5.4},{"t":13.46,"h":-1.9,"h2":4.0},{"t":13.47,"h":-0.2,"h2":3.5},
{"t":13.605,"h":-0.3,"h2":6.2},{"t":13.615,"h":-0.9,"h2":5.8},{"t":13.62,"h":0.5,"h2":7.0},{"t":13.625,"h":-0.2,"h2":6.7},{"t":13.63,"h":-1.3,"h2":3.0},{"t":13.635,"h":0.5,"h2":6.4},{"t":13.64,"h":-0.6,"h2":5.9},{"t":13.65,"h":-0.3,"h2":5.4}
],
"disto": [
{"t":9.75,"h":-4.1},{"t":9.875,"h":-3.92},{"t":10.0,"h":-3.75},{"t":10.125,"h":-3.58},{"t":10.25,"h":-3.4},{"t":10.375,"h":-3.2},{"t":10.5,"h":-3.0},{"t":10.625,"h":-2.8},{"t":10.75,"h":-2.6},{"t":10.875,"h":-2.35},{"t":11.0,"h":-2.1},{"t":11.125,"h":-1.65},{"t":11.25,"h":-1.2},{"t":11.375,"h":-0.72},{"t":11.5,"h":-0.25},{"t":11.625,"h":0.2},{"t":11.75,"h":0.65},{"t":11.875,"h":1.08},{"t":12.0,"h":1.5},{"t":12.125,"h":1.85},{"t":12.25,"h":2.15},{"t":12.375,"h":2.45},{"t":12.5,"h":2.7},{"t":12.625,"h":2.7},{"t":13.75,"h":2.7}
],
"box1": [{"t":11.94,"t2":12.406,"h":7.54,"h2":4.97},{"t":10.159,"t2":10.656,"h":-6.08,"h2":-8.48}],
"txt1": [{"t":11.96,"h":6.86,"label":"GNSS: 2.4 cm"},{"t":11.96,"h":5.72,"label":"Disto: 2.7 cm"},{"t":10.177,"h":-6.76,"label":"GNSS: -3.3 cm"},{"t":10.177,"h":-7.9,"label":"Disto: -4.1 cm"}],
"arr1": [{"t":12.29,"h":4.99,"t2":12.49,"h2":2.97},{"t":10.157,"h":-6.05,"t2":9.764,"h2":-4.03}],
"box2": [{"t":11.94,"t2":12.418,"h":8.56,"h2":4.98},{"t":9.673,"t2":10.176,"h":-6.31,"h2":-9.85}],
"txt2": [{"t":11.96,"h":7.93,"label":"GNSS: 2.4 cm"},{"t":11.96,"h":6.82,"label":"Filter: 2.7 cm"},{"t":11.96,"h":5.68,"label":"Disto: 2.7 cm"},{"t":9.692,"h":-7.02,"label":"GNSS: -4.0 cm"},{"t":9.692,"h":-8.08,"label":"Filter: -4.1 cm"},{"t":9.692,"h":-9.19,"label":"Disto: -4.1 cm"}],
"arr2": [{"t":12.317,"h":4.98,"t2":12.493,"h2":2.83},{"t":9.844,"h":-6.31,"t2":9.756,"h2":-4.19}]
},
"resolve": {"scale": {"color": "shared"}, "legend": {"color": "shared"}},
"vconcat": [
{
"title": "GNSS Postprocessing",
"width": 937, "height": 265,
"encoding": {
 "x": {"field": "t", "type": "quantitative", "scale": {"domain": [9.5, 14], "nice": false, "zero": false}, "axis": {"values": [9.5,10,10.5,11,11.5,12,12.5,13,13.5,14], "format": ".1f", "title": null, "labelPadding": 2}},
 "y": {"field": "h", "type": "quantitative", "scale": {"domain": [-10, 10], "nice": false}, "axis": {"values": [-8,-6,-4,-2,0,2,4,6,8], "format": "d", "title": "Height (cm)"}}
},
"layer": [
 {"data": {"name": "nfl"}, "mark": {"type": "rule", "color": "#b0b0b0", "strokeWidth": 0.7, "opacity": 0.6}, "encoding": {"y2": {"field": "h2"}}},
 {"data": {"name": "pp"}, "mark": {"type": "area", "color": "#0d5c0d", "opacity": 0.95}, "encoding": {"y2": {"field": "h2"}}},
 {"data": {"name": "pp"}, "transform": [{"fold": ["h","b","c","h2"], "as": ["key","h"]}], "mark": {"type": "point", "filled": true, "size": 18, "stroke": "#002000", "strokeWidth": 0.5, "opacity": 0.9},
  "encoding": {"color": {"datum": "Postprocessing", "type": "nominal", "scale": {"domain": ["Postprocessing","RTK","Disto","Kalman Filter","No Fix"], "range": ["#137013","#1a1ab4","#bfbf00","#ff1e1e","#e01818"]},
   "legend": {"orient": "none", "legendX": -145, "legendY": 618, "direction": "horizontal", "columns": 5, "title": null,
    "labelFontSize": 15.6, "labelColor": "black", "labelOffset": 20.5, "labelLimit": 300,
    "symbolSize": 1024, "symbolOffset": 8, "columnPadding": 153, "padding": 6, "strokeColor": "#666666", "fillColor": "white",
    "encoding": {
     "symbols": {
      "shape": {"value": {"expr": "datum.value === 'Disto' || datum.value === 'Kalman Filter' ? 'stroke' : 'circle'"}},
      "size": {"value": {"expr": "datum.value === 'Disto' || datum.value === 'Kalman Filter' ? 1156 : 30"}},
      "fill": {"value": {"expr": "datum.value === 'Postprocessing' ? '#339933' : datum.value === 'RTK' ? '#3333ee' : datum.value === 'No Fix' ? '#ee3333' : 'transparent'"}},
      "stroke": {"value": {"expr": "datum.value === 'Disto' ? '#bfbf00' : datum.value === 'Kalman Filter' ? '#ff5c5c' : 'transparent'"}},
      "strokeWidth": {"value": 1.5},
      "opacity": {"value": 1}
     },
     "legend": {"strokeWidth": {"value": 2}}
    }}}}},
 {"data": {"name": "nf"}, "mark": {"type": "point", "filled": true, "size": 22, "stroke": "#550000", "strokeWidth": 0.4, "opacity": 0.95},
  "encoding": {"color": {"datum": "No Fix", "type": "nominal"}}},
 {"data": {"name": "disto"}, "mark": {"type": "line", "strokeWidth": 2.2, "interpolate": "monotone"},
  "encoding": {"color": {"datum": "Disto", "type": "nominal"}}},
 {"data": {"name": "arr1"}, "mark": {"type": "rule", "color": "#a0a0a0", "strokeWidth": 2.5}, "encoding": {"x2": {"field": "t2"}, "y2": {"field": "h2"}}},
 {"data": {"name": "box1"}, "mark": {"type": "rect", "fill": "#d9d9d9", "stroke": "#555555", "strokeWidth": 1, "cornerRadius": 4}, "encoding": {"x2": {"field": "t2"}, "y2": {"field": "h2"}}},
 {"data": {"name": "txt1"}, "mark": {"type": "text", "align": "left", "baseline": "middle", "fontSize": 13.3, "color": "black"}, "encoding": {"text": {"field": "label"}}}
]
},
{
"title": "GNSS RTK",
"width": 937, "height": 265,
"encoding": {
 "x": {"field": "t", "type": "quantitative", "scale": {"domain": [9.5, 14], "nice": false, "zero": false}, "axis": {"values": [9.5,10,10.5,11,11.5,12,12.5,13,13.5,14], "format": ".1f", "title": "Time (h)", "labelPadding": 2, "titlePadding": 5}},
 "y": {"field": "h", "type": "quantitative", "scale": {"domain": [-10, 10], "nice": false}, "axis": {"values": [-8,-6,-4,-2,0,2,4,6,8], "format": "d", "title": "Height (cm)"}}
},
"layer": [
 {"data": {"name": "spk"}, "mark": {"type": "rule", "color": "#9a9a9a", "strokeWidth": 0.8, "opacity": 0.8}, "encoding": {"y2": {"field": "h2"}}},
 {"data": {"name": "rtk"}, "mark": {"type": "area", "color": "#14148a", "opacity": 0.95}, "encoding": {"y2": {"field": "h2"}}},
 {"data": {"name": "rtk"}, "transform": [{"fold": ["h","b","c","h2"], "as": ["key","h"]}], "mark": {"type": "point", "filled": true, "size": 18, "stroke": "#000030", "strokeWidth": 0.5, "opacity": 0.9},
  "encoding": {"color": {"datum": "RTK", "type": "nominal"}}},
 {"data": {"name": "spk"}, "transform": [{"fold": ["h","h2"], "as": ["key","h"]}], "mark": {"type": "point", "filled": true, "size": 18, "stroke": "#000030", "strokeWidth": 0.5, "opacity": 0.9},
  "encoding": {"color": {"datum": "RTK", "type": "nominal"}}},
 {"data": {"name": "disto"}, "mark": {"type": "line", "strokeWidth": 2.2, "interpolate": "monotone"},
  "encoding": {"color": {"datum": "Disto", "type": "nominal"}}},
 {"data": {"name": "rtk"}, "transform": [{"fold": ["k"], "as": ["key","h"]}], "mark": {"type": "line", "strokeWidth": 2, "opacity": 0.9},
  "encoding": {"color": {"datum": "Kalman Filter", "type": "nominal"}}},
 {"data": {"name": "arr2"}, "mark": {"type": "rule", "color": "#a0a0a0", "strokeWidth": 2.5}, "encoding": {"x2": {"field": "t2"}, "y2": {"field": "h2"}}},
 {"data": {"name": "box2"}, "mark": {"type": "rect", "fill": "#d9d9d9", "stroke": "#555555", "strokeWidth": 1, "cornerRadius": 4}, "encoding": {"x2": {"field": "t2"}, "y2": {"field": "h2"}}},
 {"data": {"name": "txt2"}, "mark": {"type": "text", "align": "left", "baseline": "middle", "fontSize": 13.3, "color": "black"}, "encoding": {"text": {"field": "label"}}}
]
}
],
"config": {
 "font": "DejaVu Sans",
 "view": {"stroke": "black", "strokeWidth": 1},
 "title": {"fontSize": 13.3, "fontWeight": "normal", "color": "black", "offset": 3},
 "axis": {"labelFontSize": 12.4, "labelColor": "black", "titleFontSize": 13.3, "titleFontWeight": "normal", "titleColor": "black", "domain": false, "ticks": false, "labelPadding": 5, "titlePadding": 8, "gridColor": "#333333", "gridDash": [1, 3], "gridOpacity": 0.8, "gridWidth": 1}
}
}
